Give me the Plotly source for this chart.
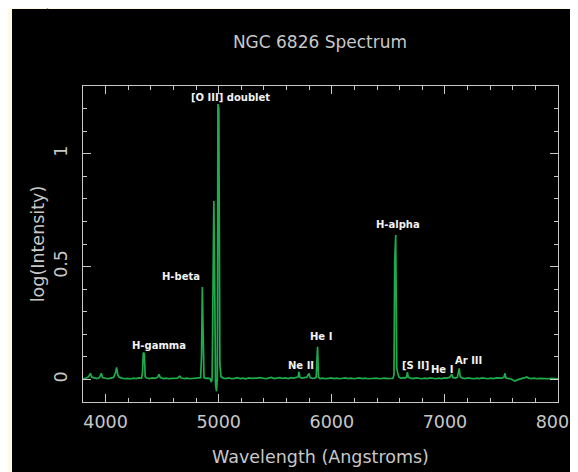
import plotly.graph_objects as go

# Spectrum samples (wavelength in Angstroms, log intensity)
wavelength = [
    3800, 3830, 3850, 3865, 3878, 3900, 3925, 3945, 3962, 3972, 3995, 4020, 4045, 4070,
    4088, 4097, 4108, 4120, 4145, 4170, 4195, 4220, 4245, 4270, 4295, 4318, 4326, 4333,
    4342, 4350, 4365, 4390, 4415, 4440, 4460, 4472, 4484, 4510, 4535, 4560, 4585, 4610,
    4635, 4655, 4668, 4695, 4720, 4745, 4770, 4795, 4820, 4840, 4848, 4855, 4862, 4870,
    4885, 4905, 4925, 4935, 4942, 4948, 4957, 4964, 4972, 4980, 4988, 4993, 5001, 5010,
    5020, 5040, 5065, 5090, 5115, 5140, 5165, 5190, 5215, 5240, 5265, 5290, 5315, 5340,
    5365, 5390, 5415, 5440, 5465, 5490, 5515, 5540, 5565, 5590, 5615, 5640, 5665, 5690,
    5703, 5710, 5717, 5735, 5760, 5780, 5792, 5800, 5808, 5830, 5850, 5862, 5868, 5874,
    5882, 5895, 5920, 5945, 5970, 5995, 6020, 6045, 6070, 6095, 6120, 6145, 6170, 6195,
    6220, 6245, 6270, 6295, 6320, 6345, 6370, 6395, 6420, 6445, 6470, 6495, 6520, 6540,
    6550, 6556, 6565, 6574, 6582, 6592, 6610, 6630, 6650, 6662, 6668, 6676, 6695, 6720,
    6745, 6770, 6795, 6820, 6845, 6870, 6895, 6920, 6945, 6970, 6995, 7020, 7045, 7060,
    7072, 7095, 7110, 7120, 7127, 7135, 7155, 7180, 7205, 7230, 7255, 7280, 7305, 7330,
    7355, 7380, 7405, 7430, 7455, 7480, 7505, 7522, 7531, 7540, 7560, 7585, 7605, 7620,
    7640, 7665, 7690, 7710, 7723, 7740, 7765, 7790, 7815, 7840, 7865, 7890, 7915, 7940,
    7965, 7990, 8000,
]
log_intensity = [
    0.003, 0.006, 0.012, 0.027, 0.010, 0.006, 0.004, 0.008, 0.027, 0.008, 0.005, 0.003, 0.006, 0.009,
    0.030, 0.053, 0.020, 0.010, 0.006, 0.003, 0.005, 0.002, 0.006, 0.004, 0.007, 0.006, 0.030, 0.118,
    0.115, 0.012, 0.006, 0.004, 0.007, 0.005, 0.010, 0.022, 0.008, 0.004, 0.006, 0.003, 0.005, 0.007,
    0.006, 0.014, 0.006, 0.004, 0.006, 0.003, 0.005, 0.004, 0.006, 0.008, 0.100, 0.410, 0.210, 0.008,
    0.005, 0.006, 0.003, -0.012, 0.005, 0.350, 0.790, 0.450, -0.020, -0.052, 0.010, 1.220, 1.200, 0.070,
    0.012, 0.006, 0.004, 0.007, 0.003, 0.005, 0.008, 0.004, 0.006, 0.003, 0.007, 0.005, 0.004, 0.006,
    0.008, 0.005, 0.003, 0.006, 0.009, 0.004, 0.006, 0.008, 0.005, 0.007, 0.004, 0.008, 0.006, 0.009,
    0.012, 0.034, 0.010, 0.006, 0.008, 0.010, 0.022, 0.024, 0.008, 0.005, 0.006, 0.010, 0.082, 0.145,
    0.010, 0.004, 0.006, 0.003, 0.005, 0.007, 0.004, 0.006, 0.003, 0.005, 0.007, 0.004, 0.006, 0.003,
    0.005, 0.007, 0.004, 0.006, 0.003, 0.005, 0.004, 0.006, 0.003, 0.005, 0.006, 0.004, 0.006, 0.005,
    0.020, 0.520, 0.640, 0.050, 0.030, 0.012, 0.005, 0.008, 0.006, 0.012, 0.032, 0.010, 0.006, 0.004,
    0.007, 0.005, 0.003, 0.006, 0.004, 0.007, 0.005, 0.003, 0.006, 0.004, 0.007, 0.006, 0.010, 0.023,
    0.008, 0.006, 0.010, 0.030, 0.049, 0.012, 0.006, 0.004, 0.007, 0.005, 0.003, 0.006, 0.004, 0.007,
    0.005, 0.003, 0.006, 0.004, 0.007, 0.005, 0.006, 0.010, 0.027, 0.006, 0.004, 0.002, -0.004, -0.007,
    -0.002, 0.003, 0.006, 0.008, 0.011, 0.006, 0.004, 0.006, 0.003, 0.005, 0.004, 0.006, 0.003, 0.005,
    0.004, 0.003, 0.003,
]

# Line labels and their anchor positions (data coordinates)
line_labels = ["[O III] doublet", "H-beta", "H-gamma", "Ne II", "He I", "H-alpha", "[S II]", "He I", "Ar III"]
label_wavelength = [5100, 4667, 4468, 5728, 5900, 6583, 6738, 6977, 7213]
label_level = [1.250, 0.455, 0.149, 0.061, 0.189, 0.687, 0.061, 0.046, 0.083]

x_tick_values = [4000, 5000, 6000, 7000, 8000]
x_tick_text = ["4000", "5000", "6000", "7000", "8000"]
y_tick_values = [0, 0.5, 1]
y_tick_text = ["0", "0.5", "1"]

# The page body has an 8px margin, so the figure is sized to fill the rest of the window.
OFF = 8
W, H = 578 - OFF, 472 - OFF
ML, MR, MT, MB = 83 - OFF, 20, 86 - OFF, 70
PW, PH = W - ML - MR, H - MT - MB

def px_to_paper_x(px):
    return (px - OFF - ML) / PW

def py_to_paper_y(py):
    return (H - MB - (py - OFF)) / PH

axis_color = "#c8c8c8"
text_color = "#c8c8c8"
font_family = "DejaVu Sans"

fig = go.Figure()
fig.add_trace(go.Scatter(
    x=wavelength, y=log_intensity, mode="lines",
    line=dict(color="#1cac4c", width=1.7),
    hoverinfo="skip", showlegend=False,
))

for txt, lx, ly in zip(line_labels, label_wavelength, label_level):
    fig.add_annotation(
        x=lx, y=ly, text="<b>" + txt + "</b>", showarrow=False,
        font=dict(family=font_family, size=10, color="#f2f2f2"),
        xanchor="center", yanchor="middle",
    )

# black panel (the figure canvas) on cream page + small gray rule at top
fig.add_shape(type="rect", xref="paper", yref="paper",
              x0=px_to_paper_x(12), x1=px_to_paper_x(600),
              y0=py_to_paper_y(500), y1=py_to_paper_y(9),
              fillcolor="black", line=dict(width=0), layer="below")
fig.add_shape(type="line", xref="paper", yref="paper",
              x0=px_to_paper_x(47.5), x1=px_to_paper_x(47.5),
              y0=py_to_paper_y(9), y1=py_to_paper_y(0),
              line=dict(color="#9a9a9a", width=1.5), layer="below")

common_axis = dict(
    showline=True, linecolor=axis_color, linewidth=1, mirror="ticks",
    ticks="inside", ticklen=8, tickwidth=1, tickcolor=axis_color,
    showgrid=False, zeroline=False, automargin=False,
    tickfont=dict(family=font_family, size=17.5, color=text_color),
)

fig.update_layout(
    width=W, height=H,
    margin=dict(l=ML, r=MR, t=MT, b=MB),
    paper_bgcolor="#fffae8", plot_bgcolor="black",
    title=dict(text="NGC 6826 Spectrum", x=px_to_paper_x(320), xref="paper",
               y=1 - (42 - OFF) / H, yref="container", xanchor="center", yanchor="middle",
               font=dict(family=font_family, size=17, color=text_color)),
    xaxis=dict(
        range=[3800, 8000], tickvals=x_tick_values, ticktext=x_tick_text,
        ticklabelstandoff=4, ticklabeloverflow="allow",
        minor=dict(ticks="inside", ticklen=4, dtick=200, tick0=4000, tickcolor=axis_color, showgrid=False),
        title=dict(text="Wavelength (Angstroms)", standoff=19,
                   font=dict(family=font_family, size=17.5, color=text_color)),
        **common_axis,
    ),
    yaxis=dict(
        range=[-0.1, 1.3], tickvals=y_tick_values, ticktext=y_tick_text, tickangle=-90,
        ticklabelstandoff=8,
        minor=dict(ticks="inside", ticklen=4, dtick=0.1, tick0=0, tickcolor=axis_color, showgrid=False),
        title=dict(text="log(Intensity)", standoff=1,
                   font=dict(family=font_family, size=17.5, color=text_color)),
        **common_axis,
    ),
)

fig.write_html("out.html")
